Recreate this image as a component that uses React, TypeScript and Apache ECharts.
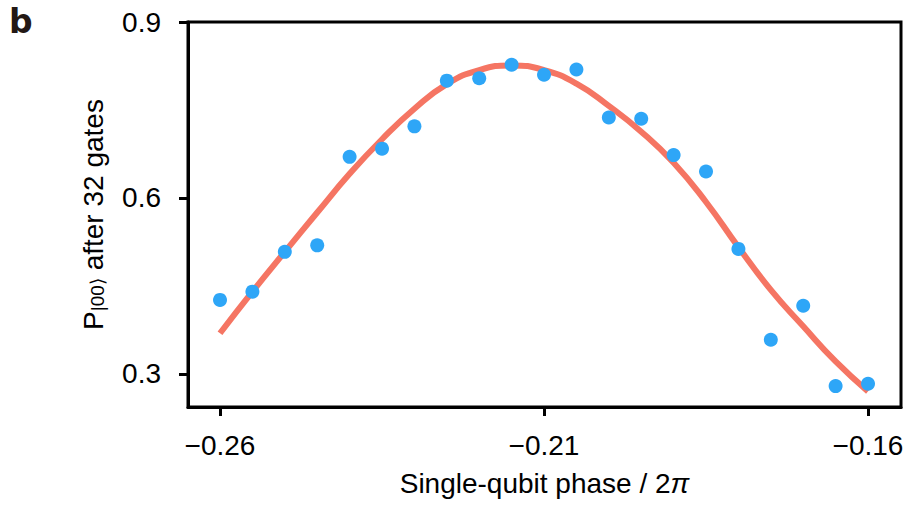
import React, { useEffect, useRef } from "react";
import * as echarts from "echarts";

const phases = [
  -0.26, -0.255, -0.25, -0.245, -0.24, -0.235, -0.23, -0.225, -0.22, -0.215, -0.21,
  -0.205, -0.2, -0.195, -0.19, -0.185, -0.18, -0.175, -0.17, -0.165, -0.16,
];
const measured = [
  0.426, 0.44, 0.508, 0.519, 0.67, 0.684, 0.722, 0.8, 0.804, 0.827, 0.81,
  0.819, 0.737, 0.735, 0.673, 0.645, 0.513, 0.358, 0.416, 0.279, 0.283,
];
const fitted = [
  0.369, 0.44, 0.508, 0.575, 0.641, 0.7, 0.752, 0.794, 0.818, 0.826, 0.818,
  0.795, 0.757, 0.713, 0.66, 0.593, 0.516, 0.443, 0.381, 0.321, 0.27,
];
const xTicks = [-0.26, -0.21, -0.16];
const yTicks = [0.3, 0.6, 0.9];

const FONT = "'Liberation Sans', Arial, Helvetica, sans-serif";

export default function App() {
  const ref = useRef<HTMLDivElement>(null);
  useEffect(() => {
    if (!ref.current) return;
    const chart = echarts.init(ref.current, null, { renderer: "svg" });
    const fmtX = (v: number) => (v < 0 ? "\u2212" : "") + Math.abs(v).toFixed(2);
    chart.setOption({
      animation: false,
      backgroundColor: "#ffffff",
      textStyle: { fontFamily: FONT },
      grid: {
        left: 188,
        right: 8,
        top: 22,
        bottom: 106,
        show: true,
        borderColor: "#000",
        borderWidth: 3,
        backgroundColor: "transparent",
      },
      xAxis: {
        type: "value",
        min: -0.26494,
        max: -0.15491,
        name: "{a|Single-qubit phase / 2}{p|\u03c0}",
        nameLocation: "middle",
        nameGap: 62,
        nameTextStyle: {
          rich: {
            a: { fontSize: 28, fontFamily: FONT, color: "#000" },
            p: { fontSize: 28, fontFamily: FONT, fontStyle: "italic", color: "#000" },
          },
        },
        axisLine: { show: true, onZero: false, lineStyle: { color: "#000", width: 3 } },
        axisTick: {
          show: true,
          inside: false,
          length: 9,
          customValues: xTicks,
          lineStyle: { color: "#000", width: 3 },
        },
        axisLabel: {
          customValues: xTicks,
          formatter: fmtX,
          fontSize: 28,
          color: "#000",
          fontFamily: FONT,
          margin: 24,
        },
        splitLine: { show: false },
      },
      yAxis: {
        type: "value",
        min: 0.2433,
        max: 0.9,
        name: "{a|P}{s||00\u27e9}{a| after 32 gates}",
        nameLocation: "middle",
        nameGap: 81,
        nameRotate: 90,
        nameTextStyle: {
          rich: {
            a: { fontSize: 28, lineHeight: 28, fontFamily: FONT, color: "#000" },
            s: {
              fontSize: 19,
              lineHeight: 14,
              verticalAlign: "bottom",
              fontFamily: FONT,
              color: "#000",
            },
          },
        },
        axisLine: { show: true, onZero: false, lineStyle: { color: "#000", width: 3 } },
        axisTick: {
          show: true,
          inside: false,
          length: 9,
          customValues: yTicks,
          lineStyle: { color: "#000", width: 3 },
        },
        axisLabel: {
          customValues: yTicks,
          formatter: (v: number) => v.toFixed(1),
          fontSize: 28,
          color: "#000",
          fontFamily: FONT,
          margin: 27,
        },
        splitLine: { show: false },
      },
      graphic: [
        {
          type: "text",
          left: 9,
          top: 5,
          style: {
            text: "b",
            fontSize: 33,
            fontWeight: "bold",
            fontFamily: "'DejaVu Sans', sans-serif",
            fill: "#231815",
          },
        },
      ],
      series: [
        {
          type: "line",
          data: phases.map((x, i) => [x, fitted[i]]),
          smooth: true,
          showSymbol: false,
          symbol: "none",
          lineStyle: { color: "#F57563", width: 6 },
          z: 2,
        },
        {
          type: "scatter",
          data: phases.map((x, i) => [x, measured[i]]),
          symbol: "circle",
          symbolSize: 14,
          itemStyle: { color: "#2EA6F7", opacity: 1 },
          z: 3,
        },
      ],
    });
    return () => chart.dispose();
  }, []);
  return (
    <div
      ref={ref}
      style={{ position: "fixed", left: 0, top: 0, width: 909, height: 513, background: "#fff" }}
    />
  );
}
